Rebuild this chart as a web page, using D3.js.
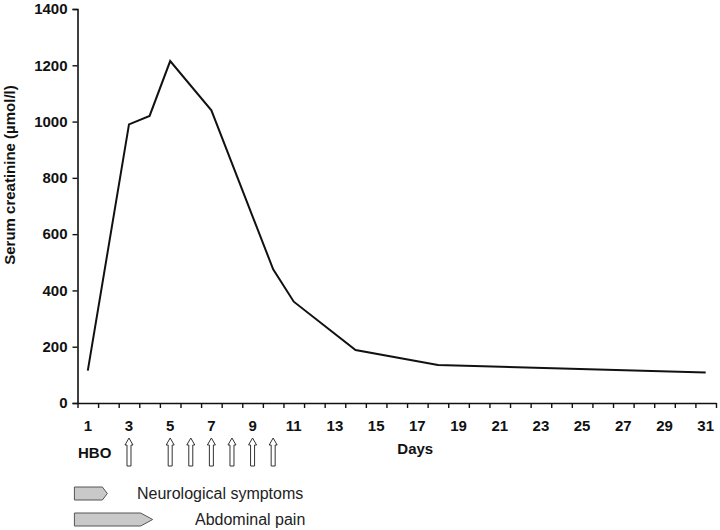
<!DOCTYPE html>
<html>
<head>
<meta charset="utf-8">
<script src="https://cdn.jsdelivr.net/npm/d3@7"></script>
<style>
  html, body { margin: 0; padding: 0; background: #fff; }
  svg { display: block; font-family: "Liberation Sans", Arial, sans-serif; }
</style>
</head>
<body>
<svg id="chart" width="720" height="530"></svg>
<script>
// ---- data ----
const days = [1, 3, 4, 5, 7, 10, 11, 14, 18, 31];
const creatinine = [115, 990, 1020, 1215, 1040, 475, 360, 188, 135, 108];
const yTicks = [0, 200, 400, 600, 800, 1000, 1200, 1400];
const xTickLabels = [1, 3, 5, 7, 9, 11, 13, 15, 17, 19, 21, 23, 25, 27, 29, 31];
const hboDays = [3, 5, 6, 7, 8, 9, 10];
const symptomNames = ["Neurological symptoms", "Abdominal pain"];
const symptomStart = [0.35, 0.35];
const symptomEnd = [1.95, 4.15];

// ---- layout ----
const svg = d3.select("#chart");
const plotLeft = 77.5, plotRight = 716, plotTop = 9, plotBottom = 403;

const x = d3.scaleLinear().domain([0.5, 31.5]).range([plotLeft, plotRight]);
const y = d3.scaleLinear().domain([0, 1400]).range([plotBottom, plotTop]);

// y axis
const yAxis = d3.axisLeft(y).tickValues(yTicks).tickSize(5).tickPadding(5).tickFormat(d3.format("d"));
const gy = svg.append("g").attr("transform", `translate(${plotLeft},0)`).call(yAxis);
gy.select(".domain").attr("stroke", "#111").attr("stroke-width", 1.6);
gy.selectAll(".tick line").attr("stroke", "#111").attr("stroke-width", 1.4);
gy.selectAll(".tick text").attr("font-size", 15).attr("font-weight", "bold").attr("fill", "#111")
  .attr("font-family", "Liberation Sans, Arial, sans-serif");

// x axis: ticks at category boundaries, labels at odd days
const boundaries = d3.range(0.5, 31.51, 1);
const xAxis = d3.axisBottom(x).tickValues(boundaries).tickSize(5).tickFormat("").tickSizeOuter(0);
const gx = svg.append("g").attr("transform", `translate(0,${plotBottom})`).call(xAxis);
gx.select(".domain").attr("stroke", "#111").attr("stroke-width", 1.6);
gx.selectAll(".tick line").attr("stroke", "#111").attr("stroke-width", 1.4);

svg.append("g").selectAll("text").data(xTickLabels).join("text")
  .attr("x", d => x(d)).attr("y", plotBottom + 28)
  .attr("text-anchor", "middle").attr("font-size", 15).attr("font-weight", "bold").attr("fill", "#111")
  .text(d => d);

// axis titles
svg.append("text").attr("x", x(16.9)).attr("y", plotBottom + 51)
  .attr("text-anchor", "middle").attr("font-size", 15).attr("font-weight", "bold").attr("fill", "#111")
  .text("Days");
svg.append("text").attr("transform", `translate(15,${y(810)}) rotate(-90)`)
  .attr("text-anchor", "middle").attr("font-size", 15).attr("font-weight", "bold").attr("fill", "#111")
  .text("Serum creatinine (µmol/l)");

// line
const pts = days.map((d, i) => [d, creatinine[i]]);
svg.append("path").datum(pts)
  .attr("fill", "none").attr("stroke", "#111").attr("stroke-width", 2).attr("stroke-linejoin", "miter")
  .attr("d", d3.line().x(d => x(d[0])).y(d => y(d[1])));

// HBO label and arrows
svg.append("text").attr("x", plotLeft + 0.5).attr("y", 458)
  .attr("font-size", 15).attr("font-weight", "bold").attr("fill", "#111").text("HBO");
const arrowTop = 438, arrowBot = 466, headH = 7, headW = 4, shaftW = 2;
svg.append("g").selectAll("path").data(hboDays).join("path")
  .attr("d", d => {
    const cx = x(d);
    return `M${cx},${arrowTop} L${cx + headW},${arrowTop + headH} L${cx + shaftW},${arrowTop + headH} ` +
           `L${cx + shaftW},${arrowBot} L${cx - shaftW},${arrowBot} L${cx - shaftW},${arrowTop + headH} ` +
           `L${cx - headW},${arrowTop + headH} Z`;
  })
  .attr("fill", "#fff").attr("stroke", "#333").attr("stroke-width", 1);

// symptom chevrons
const rowY = [487, 513], rowH = 13, tipLen = [5, 12], textX = [137, 195];
symptomNames.forEach((name, i) => {
  const x0 = x(symptomStart[i]), x1 = x(symptomEnd[i]);
  const y0 = rowY[i], y1 = y0 + rowH, ym = y0 + rowH / 2;
  svg.append("path")
    .attr("d", `M${x0},${y0} L${x1 - tipLen[i]},${y0} L${x1},${ym} L${x1 - tipLen[i]},${y1} L${x0},${y1} Z`)
    .attr("fill", "#c9c9c9").attr("stroke", "#555").attr("stroke-width", 1);
  svg.append("text").attr("x", textX[i]).attr("y", ym + 5.5)
    .attr("font-size", 16).attr("fill", "#222").text(name);
});
</script>
</body>
</html>
